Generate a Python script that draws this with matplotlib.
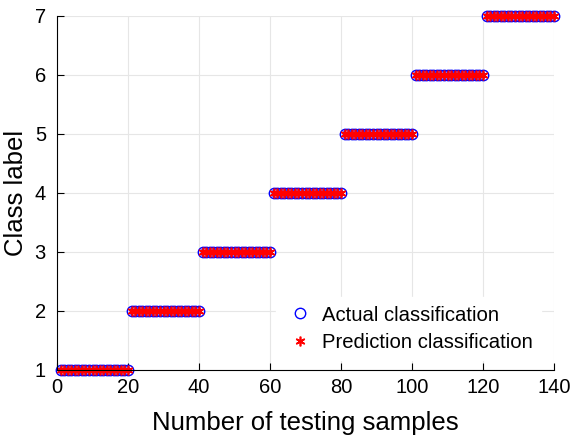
import numpy as np
import matplotlib.pyplot as plt

plt.rcParams['font.family'] = ['Liberation Sans', 'DejaVu Sans']

# test samples 1..140, 20 per class
samples = np.arange(1, 141)
actual = np.repeat([1, 2, 3, 4, 5, 6, 7], 20)
predicted = np.repeat([1, 2, 3, 4, 5, 6, 7], 20)

fig = plt.figure(figsize=(5.7, 4.42), dpi=100)
ax = fig.add_axes([0.1, 0.163, 0.872, 0.801])

ax.plot(samples, actual, 'o', mfc='none', mec='blue', ms=7.5, mew=1.0,
        label='Actual classification')
ax.plot(samples, predicted, marker=(6, 2, 0), ls='none', color='red', ms=7, mew=1.2,
        label='Prediction classification')

ax.set_xlim(0, 140)
ax.set_ylim(1, 7)
ax.set_xticks(np.arange(0, 141, 20))
ax.set_yticks(np.arange(1, 8))
ax.grid(True, color='#e6e6e6', lw=0.8)
ax.set_axisbelow(True)
for s in ['top', 'right']:
    ax.spines[s].set_visible(False)
ax.tick_params(direction='in', labelsize=14.5, length=5)
ax.tick_params(axis='y', pad=8)
ax.tick_params(axis='x', pad=6)
ax.set_xlabel('Number of testing samples', fontsize=18.5, labelpad=10)
ax.set_ylabel('Class label', fontsize=18.5, labelpad=5)
leg = ax.legend(loc='lower right', bbox_to_anchor=(0.995, 0.0), fontsize=14.6,
                frameon=True, fancybox=False, edgecolor='white', framealpha=1,
                handletextpad=0.3, labelspacing=0.4, handlelength=1.6)
for ln in ax.lines:
    ln.set_clip_on(False)

fig.savefig('out.png', dpi=100)
